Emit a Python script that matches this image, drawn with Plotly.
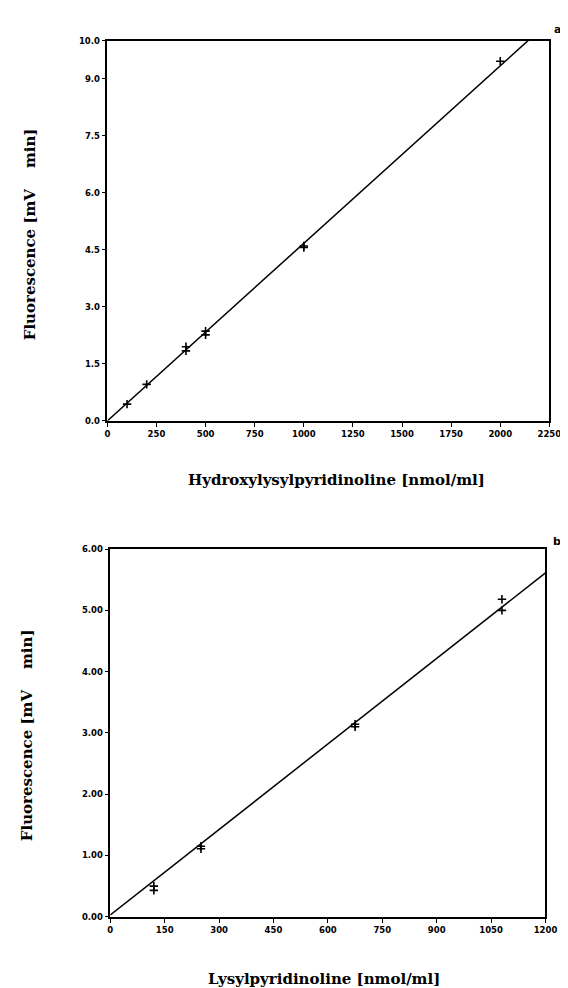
import plotly.graph_objects as go

# ---- Panel a data (Hydroxylysylpyridinoline) ----
a_x = [100, 200, 400, 400, 500, 500, 1000, 1000, 2000]
a_y = [0.44, 0.96, 1.95, 1.84, 2.36, 2.26, 4.60, 4.56, 9.46]
a_slope = 0.00467
a_intercept = 0.0
a_xticks = [0, 250, 500, 750, 1000, 1250, 1500, 1750, 2000, 2250]
a_yticks = [0.0, 1.5, 3.0, 4.5, 6.0, 7.5, 9.0, 10.0]
a_yticklabels = ["0.0", "1.5", "3.0", "4.5", "6.0", "7.5", "9.0", "10.0"]

# ---- Panel b data (Lysylpyridinoline) ----
b_x = [120, 120, 250, 250, 675, 675, 1080, 1080]
b_y = [0.50, 0.43, 1.15, 1.11, 3.14, 3.10, 5.18, 5.00]
b_slope = 0.00465
b_intercept = 0.03
b_xticks = [0, 150, 300, 450, 600, 750, 900, 1050, 1200]
b_yticks = [0, 1, 2, 3, 4, 5, 6]
b_yticklabels = ["0.00", "1.00", "2.00", "3.00", "4.00", "5.00", "6.00"]

a_fit_x = [a_xticks[0], a_xticks[-1]]
b_fit_x = [b_xticks[0], b_xticks[-1]]

fig = go.Figure()

marker = dict(symbol="cross-thin", size=6, color="black", line=dict(width=1.6, color="black"))

fig.add_trace(go.Scatter(x=a_fit_x, y=[a_intercept + a_slope * v for v in a_fit_x],
                         mode="lines", line=dict(color="black", width=1.5),
                         xaxis="x", yaxis="y", showlegend=False))
fig.add_trace(go.Scatter(x=a_x, y=a_y, mode="markers", marker=marker,
                         xaxis="x", yaxis="y", showlegend=False, cliponaxis=False))
fig.add_trace(go.Scatter(x=b_fit_x, y=[b_intercept + b_slope * v for v in b_fit_x],
                         mode="lines", line=dict(color="black", width=1.5),
                         xaxis="x2", yaxis="y2", showlegend=False))
fig.add_trace(go.Scatter(x=b_x, y=b_y, mode="markers", marker=marker,
                         xaxis="x2", yaxis="y2", showlegend=False, cliponaxis=False))

tickfont = dict(family="DejaVu Sans", size=8.5, color="black")
ax_common = dict(showgrid=False, zeroline=False, showline=True, linecolor="black",
                 linewidth=1.5, mirror=True, ticks="outside", ticklen=4,
                 tickwidth=1.2, tickcolor="black", tickfont=tickfont, tickmode="array")

def b(lbls):
    return ["<b>%s</b>" % s for s in lbls]

fig.update_layout(
    width=568, height=988,
    margin=dict(l=0, r=0, t=0, b=0),
    paper_bgcolor="white", plot_bgcolor="white",
    xaxis=dict(domain=[0.1743, 0.9735], range=[0, 2250], anchor="y",
               tickvals=a_xticks, ticktext=b([str(v) for v in a_xticks]), **ax_common),
    yaxis=dict(domain=[0.583, 0.9717], range=[0, 10], anchor="x",
               tickvals=a_yticks, ticktext=b(a_yticklabels), **ax_common),
    xaxis2=dict(domain=[0.1796, 0.9665], range=[0, 1200], anchor="y2",
                tickvals=b_xticks, ticktext=b([str(v) for v in b_xticks]), **ax_common),
    yaxis2=dict(domain=[0.0759, 0.4519], range=[0, 6], anchor="x2",
                tickvals=b_yticks, ticktext=b(b_yticklabels), **ax_common),
)

titlefont = dict(family="DejaVu Serif", size=15, color="black")
ann = [
    dict(text="<b>Hydroxylysylpyridinoline [nmol/ml]</b>", x=334, y=472),
    dict(text="<b>Lysylpyridinoline [nmol/ml]</b>", x=322, y=976),
    dict(text="<b>Fluorescence [mV    min]</b>", x=19, y=223, textangle=-90),
    dict(text="<b>Fluorescence [mV    min]</b>", x=16, y=730, textangle=-90),
    dict(text="<b>a</b>", x=561, y=17, font=dict(family="DejaVu Sans", size=11, color="black")),
    dict(text="<b>b</b>", x=561, y=534, font=dict(family="DejaVu Sans", size=11, color="black")),
]
for a in ann:
    fig.add_annotation(text=a["text"], x=a["x"] / 568, y=1 - a["y"] / 988,
                       xref="paper", yref="paper", showarrow=False,
                       xanchor="center", yanchor="middle",
                       textangle=a.get("textangle", 0),
                       font=a.get("font", titlefont))

fig.write_html("out.html")
